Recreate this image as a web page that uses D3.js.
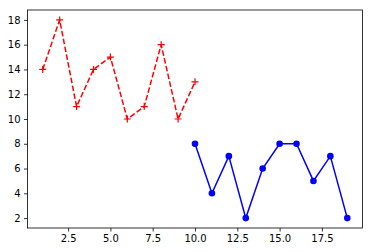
<!DOCTYPE html>
<html><head><meta charset="utf-8">
<script src="https://cdn.jsdelivr.net/npm/d3@7"></script>
<style>body{margin:0;background:#fff}svg{display:block}</style>
</head><body>
<svg id="c" width="372" height="252"></svg>
<script>
const redX = [1,2,3,4,5,6,7,8,9,10];
const redY = [14,18,11,14,15,10,11,16,10,13];
const blueX = [10,11,12,13,14,15,16,17,18,19];
const blueY = [8,4,7,2,6,8,8,5,7,2];
const xTicks = [2.5,5.0,7.5,10.0,12.5,15.0,17.5];
const yTicks = [2,4,6,8,10,12,14,16,18];

const L=27.5, R=362.5, T=10, B=228;
const svg = d3.select('#c');
const x = d3.scaleLinear().domain([0.1,19.9]).range([L,R]);
const y = d3.scaleLinear().domain([1.2,18.8]).range([B,T]);
const font = 'DejaVu Sans, sans-serif';

const line = d3.line().x(d=>x(d[0])).y(d=>y(d[1]));
const red = redX.map((v,i)=>[v,redY[i]]);
const blue = blueX.map((v,i)=>[v,blueY[i]]);

svg.append('path').attr('d',line(red)).attr('fill','none').attr('stroke','#ff0000')
  .attr('stroke-width',1.5).attr('stroke-dasharray','5.55,2.4');
svg.append('g').selectAll('path').data(red).join('path')
  .attr('d',d=>`M${x(d[0])-3.5},${y(d[1])}h7M${x(d[0])},${y(d[1])-3.5}v7`)
  .attr('stroke','#ff0000').attr('stroke-width',1.2).attr('fill','none');

svg.append('path').attr('d',line(blue)).attr('fill','none').attr('stroke','#0000ff')
  .attr('stroke-width',1.5);
svg.append('g').selectAll('circle').data(blue).join('circle')
  .attr('cx',d=>x(d[0])).attr('cy',d=>y(d[1])).attr('r',3.3).attr('fill','#0000ff');

const xa = svg.append('g').attr('transform',`translate(0,${B})`)
  .call(d3.axisBottom(x).tickValues(xTicks).tickFormat(d3.format('.1f')).tickSizeOuter(0).tickSize(3.5).tickPadding(3.5));
const ya = svg.append('g').attr('transform',`translate(${L},0)`)
  .call(d3.axisLeft(y).tickValues(yTicks).tickFormat(d3.format('d')).tickSizeOuter(0).tickSize(3.5).tickPadding(3.5));
[xa,ya].forEach(a=>{
  a.select('.domain').remove();
  a.selectAll('line').attr('stroke','#000').attr('stroke-width',0.8);
  a.selectAll('text').attr('font-family',font).attr('font-size',10).attr('fill','#000');
});
svg.append('rect').attr('x',L).attr('y',T).attr('width',R-L).attr('height',B-T)
  .attr('fill','none').attr('stroke','#000').attr('stroke-width',0.8);
</script>
</body></html>
